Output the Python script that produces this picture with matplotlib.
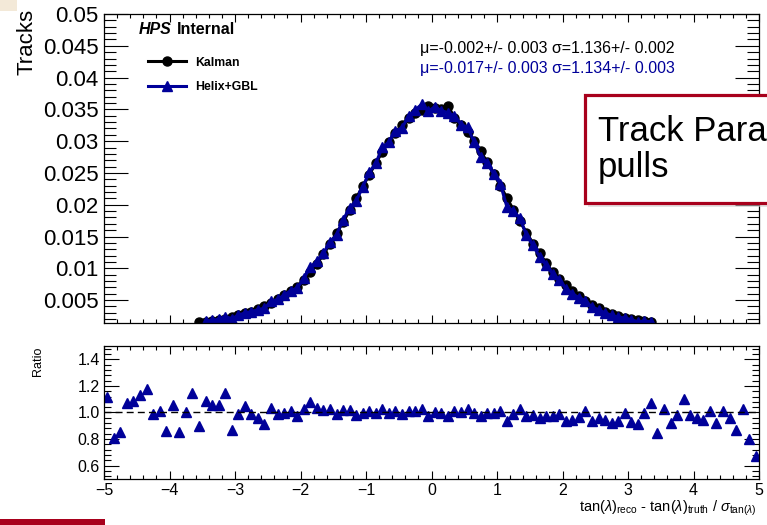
import matplotlib.pyplot as plt
import numpy as np
from matplotlib.patches import Rectangle
from matplotlib.ticker import MultipleLocator

plt.rcParams['font.family'] = ['Liberation Sans', 'DejaVu Sans']
plt.rcParams['mathtext.fontset'] = 'custom'
plt.rcParams['mathtext.rm'] = 'Liberation Sans'
plt.rcParams['mathtext.it'] = 'Liberation Sans:italic'

# 100 bins of width 0.1 between -5 and 5
edges = np.linspace(-5, 5, 101)
centers = 0.5 * (edges[:-1] + edges[1:])

# Kalman, visible bins -3.55 .. 3.35
kalman = [0.0015, 0.0016, 0.0017, 0.0019, 0.0021, 0.0024, 0.0026, 0.0029, 0.0032, 0.0036,
          0.0041, 0.0046, 0.0052, 0.0058, 0.0064, 0.0071, 0.0082, 0.0094, 0.0107, 0.0122,
          0.0138, 0.0155, 0.0173, 0.0191, 0.0210, 0.0229, 0.0247, 0.0266, 0.0283, 0.0299,
          0.0313, 0.0326, 0.0336, 0.0344, 0.0349, 0.0356, 0.0352, 0.0350, 0.0356, 0.0337,
          0.0326, 0.0314, 0.0300, 0.0284, 0.0267, 0.0249, 0.0230, 0.0211, 0.0192, 0.0174,
          0.0156, 0.0139, 0.0124, 0.0108, 0.0094, 0.0083, 0.0073, 0.0064, 0.0056, 0.0048,
          0.0042, 0.0037, 0.0032, 0.0028, 0.0025, 0.0022, 0.0020, 0.0018, 0.0017, 0.0015]
kalman_first = 14

# Helix+GBL, visible bins -3.45 .. 3.35
gbl = [0.0017, 0.0018, 0.0020, 0.0024, 0.0021, 0.0026, 0.0030, 0.0032, 0.0035, 0.0037,
       0.0048, 0.0051, 0.0058, 0.0065, 0.0069, 0.0084, 0.0102, 0.0111, 0.0124, 0.0141,
       0.0153, 0.0176, 0.0195, 0.0206, 0.0228, 0.0251, 0.0265, 0.0291, 0.0298, 0.0316,
       0.0321, 0.0339, 0.0349, 0.0358, 0.0347, 0.0354, 0.0348, 0.0345, 0.0340, 0.0326,
       0.0322, 0.0299, 0.0275, 0.0266, 0.0248, 0.0233, 0.0197, 0.0190, 0.0179, 0.0152,
       0.0136, 0.0118, 0.0105, 0.0091, 0.0082, 0.0068, 0.0060, 0.0054, 0.0049, 0.0039,
       0.0035, 0.0030, 0.0026, 0.0023, 0.0022, 0.0019, 0.0016, 0.0017, 0.0016]
gbl_first = 15

# ratio Helix+GBL / Kalman, all 100 bins
ratio = [1.115, 0.805, 0.85, 1.075, 1.09, 1.13, 1.18, 0.99, 1.01, 0.86,
         1.055, 0.855, 1.0, 1.145, 0.90, 1.085, 1.06, 1.055, 1.145, 0.87,
         0.99, 1.05, 0.99, 0.96, 0.91, 1.035, 0.99, 0.995, 1.015, 0.975,
         1.03, 1.08, 1.035, 1.02, 1.025, 0.99, 1.02, 1.02, 0.98, 0.995,
         1.015, 0.995, 1.03, 0.995, 1.01, 0.985, 1.01, 1.015, 1.025, 0.975,
         1.005, 0.995, 0.97, 1.01, 1.0, 1.025, 0.995, 0.97, 0.995, 0.995,
         1.015, 0.935, 0.99, 1.03, 0.975, 0.98, 0.955, 0.97, 0.97, 0.985,
         0.935, 0.945, 0.965, 1.015, 0.935, 0.955, 0.94, 0.92, 0.935, 0.995,
         0.93, 0.91, 0.995, 1.075, 0.845, 1.03, 0.92, 0.98, 1.10, 0.98,
         0.955, 0.94, 1.015, 0.92, 1.015, 0.96, 0.865, 1.03, 0.80, 0.675]

kalman_fit = "\u03bc=-0.002+/- 0.003 \u03c3=1.136+/- 0.002"
gbl_fit = "\u03bc=-0.017+/- 0.003 \u03c3=1.134+/- 0.003"

blue = "#000099"
darkred = "#A8001C"

W, H = 767, 525
fig = plt.figure(figsize=(W / 100, H / 100), dpi=100)


def fx(px):
    return px / W


def fy(py):
    return 1 - py / H


ax1 = fig.add_axes([fx(104), fy(323), fx(759) - fx(104), fy(14) - fy(323)])
ax2 = fig.add_axes([fx(104), fy(479), fx(759) - fx(104), fy(346) - fy(479)])

kx = centers[kalman_first:kalman_first + len(kalman)]
gx = centers[gbl_first:gbl_first + len(gbl)]

ax1.plot(kx, kalman, color="black", lw=2.2, marker="o", ms=6.5, label="Kalman")
ax1.plot(gx, gbl, color=blue, lw=2.2, marker="^", ms=7, label="Helix+GBL")
ax1.set_xlim(-5, 5)
ax1.set_ylim(0.0014, 0.05)
ax1.set_xticklabels([])
ax1.xaxis.set_major_locator(MultipleLocator(1))
ax1.xaxis.set_minor_locator(MultipleLocator(0.2))
ax1.yaxis.set_minor_locator(MultipleLocator(0.001))
yt = np.arange(0.005, 0.0501, 0.005)
ax1.set_yticks(yt)
ax1.set_yticklabels([f"{v:g}" for v in yt])
ax1.tick_params(which="both", direction="in", top=True, right=True, width=0.8)
ax1.tick_params(axis="y", which="major", length=17, labelsize=16, pad=4)
ax1.tick_params(axis="y", which="minor", length=8.5)
ax1.tick_params(axis="x", which="major", length=5.5)
ax1.tick_params(axis="x", which="minor", length=3)

ax1.legend(loc="upper left", bbox_to_anchor=(0.067, 0.862), frameon=False,
           prop={"weight": "bold", "size": 8.8}, handlelength=3.1,
           handletextpad=0.75, labelspacing=1.0, borderpad=0, borderaxespad=0)

# ratio panel
ax2.plot(centers, ratio, ls="none", marker="^", ms=7, color=blue)
ax2.axhline(1.0, color="black", ls=(0, (5, 3)), lw=1)
ax2.set_xlim(-5, 5)
ax2.set_ylim(0.5, 1.5)
ax2.xaxis.set_major_locator(MultipleLocator(1))
ax2.xaxis.set_minor_locator(MultipleLocator(0.2))
ax2.set_yticks([0.6, 0.8, 1.0, 1.2, 1.4])
ax2.set_yticklabels(["0.6", "0.8", "1.0", "1.2", "1.4"])
ax2.yaxis.set_minor_locator(MultipleLocator(0.04))
ax2.tick_params(which="both", direction="in", top=True, right=True, width=0.8)
ax2.tick_params(axis="y", which="major", length=11, labelsize=11.5, pad=3)
ax2.tick_params(axis="y", which="minor", length=5)
ax2.tick_params(axis="x", which="major", length=5.5, labelsize=11.5, pad=3)
ax2.tick_params(axis="x", which="minor", length=3)

for ax in (ax1, ax2):
    for s in ax.spines.values():
        s.set_linewidth(0.9)

# axis titles
fig.text(fx(27), fy(42), "Tracks", rotation=90, ha="center", va="center", fontsize=16)
fig.text(fx(38), fy(361), "Ratio", rotation=90, ha="center", va="center", fontsize=9)
fig.text(fx(757), fy(508),
         r"tan($\lambda$)$_{\mathrm{reco}}$ - tan($\lambda$)$_{\mathrm{truth}}$"
         r" / $\sigma_{\mathrm{tan}(\lambda)}$",
         ha="right", va="center", fontsize=10.5)

# labels
fig.text(fx(139), fy(30), "HPS", ha="left", va="center", fontsize=11.5,
         fontweight="bold", fontstyle="italic")
fig.text(fx(177), fy(30), "Internal", ha="left", va="center", fontsize=11.5,
         fontweight="bold")
fig.text(fx(420), fy(48), kalman_fit, ha="left", va="center", fontsize=11.5, color="black")
fig.text(fx(420), fy(69), gbl_fit, ha="left", va="center", fontsize=11.5, color=blue)

# slide overlay box
fig.patches.append(Rectangle((fx(588), fy(207)), 0.5, fy(99) - fy(207),
                             transform=fig.transFigure, facecolor="#cfcfcf",
                             edgecolor="none", alpha=0.6, zorder=5))
fig.patches.append(Rectangle((fx(585), fy(203)), 0.5, fy(95) - fy(203),
                             transform=fig.transFigure, facecolor="white",
                             edgecolor=darkred, lw=2.3, zorder=6))
fig.text(fx(598), fy(141), "Track Para", ha="left", va="baseline",
         fontsize=25, zorder=7)
fig.text(fx(598), fy(177), "pulls", ha="left", va="baseline", fontsize=25, zorder=7)

# slide decorations
fig.patches.append(Rectangle((0, fy(525)), fx(105), fy(519) - fy(525),
                             transform=fig.transFigure, facecolor=darkred,
                             edgecolor="none", zorder=5))
fig.patches.append(Rectangle((0, fy(11)), fx(17), fy(0) - fy(11),
                             transform=fig.transFigure, facecolor="#F3E9D8",
                             edgecolor="none", zorder=5))

fig.savefig("out.png", dpi=100)
